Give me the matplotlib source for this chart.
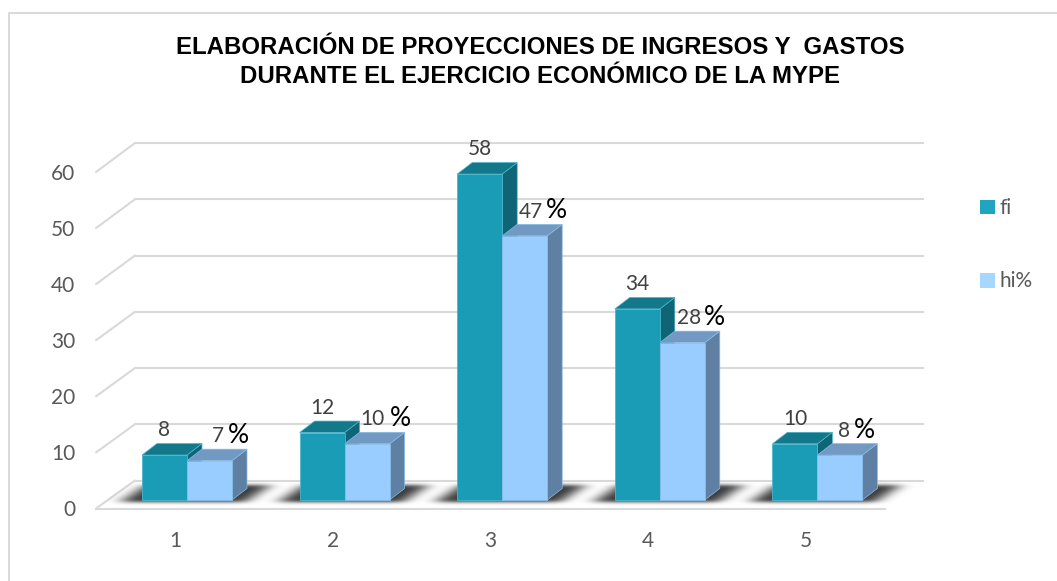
import numpy as np
import matplotlib
matplotlib.use("Agg")
import matplotlib.pyplot as plt
from matplotlib.patches import Polygon, Patch, ConnectionPatch
from matplotlib.lines import Line2D
from matplotlib.ticker import FixedLocator

# ---- data ----
categories = [1, 2, 3, 4, 5]
fi = [8, 12, 58, 34, 10]
hi = [7, 10, 47, 28, 8]
y_ticks = [0, 10, 20, 30, 40, 50, 60]
title = "ELABORACIÓN DE PROYECCIONES DE INGRESOS Y  GASTOS\nDURANTE EL EJERCICIO ECONÓMICO DE LA MYPE"
series_names = ["fi", "hi%"]

# ---- layout (pixels / styles) ----
W, H = 1057, 581
FONT = "Lato"
GRID = "#D9D9D9"
C_FI = ("#1B9CB6", "#13788A", "#0F6475", "#4DB4CC")
C_HI = ("#99CCFF", "#7299C1", "#5F7FA3", "#85BDE8")
hi_label_dx = [8, 5.5, 6.5, 6.5, 4]
pct_dx = [29, 33.5, 32, 32.5, 25]

fig = plt.figure(figsize=(W / 100, H / 100), dpi=100, facecolor="white")


def px_axes(left, right, top, bottom, **kw):
    return fig.add_axes([left / W, 1 - bottom / H, (right - left) / W, (bottom - top) / H], **kw)


# back wall
ax_back = px_axes(135, 923, 143, 480.5, zorder=1)
ax_back.set_xlim(0.5, 5.5)
ax_back.set_ylim(0, 60)
ax_back.patch.set_visible(False)
for s in ax_back.spines.values():
    s.set_visible(False)
ax_back.set_xticks([])
ax_back.yaxis.set_major_locator(FixedLocator(y_ticks))
ax_back.tick_params(left=False, labelleft=False)
ax_back.grid(axis="y", color=GRID, lw=1.5, clip_on=False)

# front plane carrying the axis labels
ax_front = px_axes(96, 885, 172, 508.5, zorder=2)
ax_front.set_xlim(0.5, 5.5)
ax_front.set_ylim(0, 60)
ax_front.patch.set_visible(False)
for k, s in ax_front.spines.items():
    s.set_visible(k == "bottom")
ax_front.spines["bottom"].set_color(GRID)
ax_front.spines["bottom"].set_linewidth(1.5)
ax_front.set_xticks(categories)
ax_front.set_xticklabels([str(c) for c in categories])
ax_front.set_yticks(y_ticks)
ax_front.tick_params(axis="both", length=0, labelsize=15, labelcolor="#595959")
ax_front.tick_params(axis="x", pad=16.5)
ax_front.tick_params(axis="y", pad=15)
for lab in ax_front.get_xticklabels() + ax_front.get_yticklabels():
    lab.set_fontfamily(FONT)

for v in y_ticks:
    fig.add_artist(ConnectionPatch(xyA=(0.5, v), coordsA=ax_front.transData,
                                   xyB=(0.5, v), coordsB=ax_back.transData,
                                   color=GRID, lw=1.5, zorder=1.5))

# bar plane, full figure with scale: value 0 at y=500 px, 5.62 px per unit; category 1 at x=187 px
STEP = 157.6
PPU = 5.62
ax = fig.add_axes([0, 0, 1, 1], zorder=3)
xlim = (1 + (0 - 187) / STEP, 1 + (W - 187) / STEP)
ylim = ((500 - H) / PPU, 500 / PPU)
ax.set_xlim(*xlim)
ax.set_ylim(*ylim)
ax.axis("off")

BW = 45 / STEP
DX = 15 / STEP
DY = 11.5 / PPU


def blurred_shadow():
    """Soft sheared shadow sprite, in px relative to the bars' lower-left corner."""
    sx = np.arange(-50, 170)
    sy = np.arange(-12, 28)          # height above the bar base, px
    gx, gy = np.meshgrid(sx, sy)
    shear = gy * 1.5
    core = ((gx >= -18 + shear) & (gx <= 106 + shear) & (gy >= -2) & (gy <= 14)).astype(float)
    kernel_x = np.exp(-0.5 * (np.arange(-24, 25) / 8.0) ** 2)
    kernel_y = np.exp(-0.5 * (np.arange(-6, 7) / 1.8) ** 2)
    kernel_x /= kernel_x.sum()
    kernel_y /= kernel_y.sum()
    core = np.apply_along_axis(lambda r: np.convolve(r, kernel_x, "same"), 1, core)
    core = np.apply_along_axis(lambda r: np.convolve(r, kernel_y, "same"), 0, core)
    rgba = np.zeros(core.shape + (4,))
    rgba[..., 3] = core * 0.78
    return rgba, sx, sy


sprite, sx, sy = blurred_shadow()
for c in categories:
    x0 = c - BW
    ax.imshow(sprite, origin="lower", aspect="auto", interpolation="bilinear", zorder=1,
              extent=(x0 + sx[0] / STEP, x0 + (sx[-1] + 1) / STEP, sy[0] / PPU, (sy[-1] + 1) / PPU))
ax.set_xlim(*xlim)
ax.set_ylim(*ylim)


def draw_series(values, offset, colors):
    front, top, side, edge = colors
    xs = [c + offset for c in categories]
    # 3-D side and top faces
    for x, v in zip(xs, values):
        ax.add_patch(Polygon([(x + BW, 0), (x + BW + DX, DY), (x + BW + DX, v + DY), (x + BW, v)],
                             closed=True, fc=side, ec=edge, lw=0.5, zorder=2))
        ax.add_patch(Polygon([(x, v), (x + BW, v), (x + BW + DX, v + DY), (x + DX, v + DY)],
                             closed=True, fc=top, ec=edge, lw=0.5, zorder=2))
    ax.bar(xs, values, width=BW, align="edge", color=front, edgecolor=edge, linewidth=0.6, zorder=3)


draw_series(fi, -BW, C_FI)
draw_series(hi, 0, C_HI)

# data labels
for c, v in zip(categories, fi):
    ax.annotate(str(v), (c - BW / 2, v), xytext=(0, 18), textcoords="offset points",
                ha="center", va="center", fontsize=15, color="#404040", family=FONT, zorder=5)
for c, v, d, p in zip(categories, hi, hi_label_dx, pct_dx):
    ax.annotate(str(v), (c + BW / 2, v), xytext=(d * 0.72, 17.5), textcoords="offset points",
                ha="center", va="center", fontsize=15, color="#404040", family=FONT, zorder=5)
    ax.annotate("%", (c + BW / 2, v), xytext=(p * 0.72, 18),
                textcoords="offset points", ha="center", va="center", fontsize=19,
                color="black", family=FONT, zorder=5)

# legend
handles = [Patch(fc="#1FA5C0", ec="none", label=series_names[0]),
           Patch(fc="#A6D8FF", ec="none", label=series_names[1])]
leg = ax.legend(handles=handles, loc="upper left", bbox_to_anchor=(974 / W, 1 - 192 / H),
                frameon=False, labelcolor="#595959", handlelength=0.72,
                handleheight=0.72, handletextpad=0.2, labelspacing=2.55,
                borderpad=0.3, borderaxespad=0, prop={"family": FONT, "size": 15})

# title
fig.suptitle(title, x=540 / W, y=1 - 62 / H, ha="center", va="center",
             fontsize=17.3, fontweight="bold", family="Liberation Sans", color="black", linespacing=1.32)

# chart frame (left and top edge only)
fig.add_artist(Line2D([8.5 / W, 8.5 / W, 1], [0, 1 - 12.5 / H, 1 - 12.5 / H], color=GRID, lw=1.4, zorder=0))

fig.savefig("out.png", dpi=100)
